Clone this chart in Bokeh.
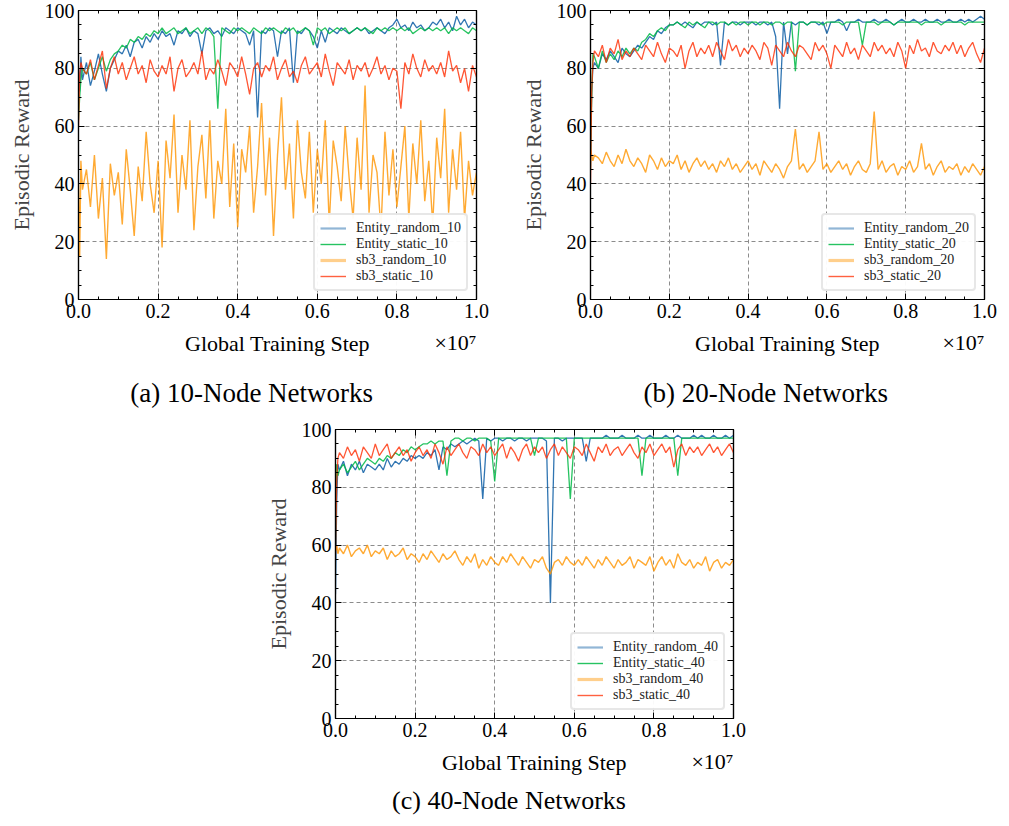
from bokeh.plotting import figure
from bokeh.models import (Range1d, LinearAxis, SingleIntervalTicker, Legend, LegendItem,
                          Spacer, NumeralTickFormatter, CustomJSTickFormatter)
from bokeh.layouts import column, row
from bokeh.core.properties import value
from bokeh.embed import file_html
from bokeh.resources import INLINE

# ---------------- data (x in units of 1e7 training steps) ----------------
STEPS = [0.000, 0.003, 0.006,
         0.01, 0.02, 0.03, 0.04, 0.05, 0.06, 0.07, 0.08, 0.09, 0.10,
         0.11, 0.12, 0.13, 0.14, 0.15, 0.16, 0.17, 0.18, 0.19, 0.20,
         0.21, 0.22, 0.23, 0.24, 0.25, 0.26, 0.27, 0.28, 0.29, 0.30,
         0.31, 0.32, 0.33, 0.34, 0.35, 0.36, 0.37, 0.38, 0.39, 0.40,
         0.41, 0.42, 0.43, 0.44, 0.45, 0.46, 0.47, 0.48, 0.49, 0.50,
         0.51, 0.52, 0.53, 0.54, 0.55, 0.56, 0.57, 0.58, 0.59, 0.60,
         0.61, 0.62, 0.63, 0.64, 0.65, 0.66, 0.67, 0.68, 0.69, 0.70,
         0.71, 0.72, 0.73, 0.74, 0.75, 0.76, 0.77, 0.78, 0.79, 0.80,
         0.81, 0.82, 0.83, 0.84, 0.85, 0.86, 0.87, 0.88, 0.89, 0.90,
         0.91, 0.92, 0.93, 0.94, 0.95, 0.96, 0.97, 0.98, 0.99, 1.00]

# (a) 10-node
A_ENTITY_RANDOM = [80, 72, 84,
                   76, 82, 74, 79, 85, 78, 72, 80, 83, 86,
                   85, 88, 84, 89, 90, 87, 91, 89, 92, 90,
                   93, 91, 92, 88, 93, 92, 94, 91, 93, 92,
                   85, 93, 94, 92, 93, 91, 94, 93, 92, 94,
                   93, 92, 88, 93, 63, 93, 92, 94, 93, 84,
                   93, 92, 94, 75, 93, 92, 94, 93, 91, 87,
                   93, 89, 94, 93, 92, 94, 93, 92, 93, 94,
                   93, 94, 92, 93, 94, 93, 92, 94, 95, 97,
                   94, 95, 93, 96, 94, 95, 93, 94, 96, 95,
                   97, 94, 96, 93, 98, 95, 97, 94, 96, 95]
A_ENTITY_STATIC = [62, 70, 76,
                   80, 78, 82, 76, 80, 84, 79, 83, 85, 86,
                   88, 87, 90, 89, 91, 90, 92, 91, 93, 92,
                   94, 92, 93, 94, 92, 93, 94, 92, 93, 94,
                   92, 94, 93, 91, 66, 94, 93, 92, 94, 93,
                   94, 93, 92, 94, 93, 92, 94, 93, 94, 93,
                   92, 94, 93, 94, 92, 93, 94, 93, 88, 94,
                   93, 94, 92, 93, 94, 93, 94, 92, 93, 94,
                   93, 94, 93, 92, 94, 93, 94, 93, 94, 93,
                   94, 93, 94, 92, 93, 94, 93, 94, 93, 94,
                   93, 94, 92, 94, 93, 94, 93, 92, 94, 93]
A_SB3_RANDOM = [40, 15, 48,
                38, 45, 32, 50, 28, 42, 14, 47, 36, 44,
                26, 52, 38, 22, 46, 34, 58, 40, 30, 48,
                18, 55, 42, 64, 30, 50, 38, 62, 24, 46,
                57, 35, 62, 28, 48, 40, 66, 32, 54, 25,
                52, 44, 60, 30, 46, 68, 36, 56, 22, 50,
                70, 38, 54, 28, 62, 44, 35, 58, 30, 52,
                40, 62, 26, 55, 46, 34, 60, 42, 28, 56,
                38, 74, 30, 50, 44, 24, 58, 36, 52, 32,
                46, 60, 28, 54, 40, 62, 34, 48, 26, 56,
                42, 66, 30, 52, 38, 58, 28, 48, 36, 44]
A_SB3_STATIC = [60, 78, 82,
                80, 78, 83, 76, 81, 86, 73, 80, 84, 78,
                82, 76, 80, 84, 78, 81, 75, 83, 79, 77,
                81, 78, 84, 72, 80, 83, 77, 79, 82, 78,
                86, 76, 80, 78, 83, 79, 74, 82, 80, 77,
                84, 78, 71, 80, 82, 77, 81, 79, 84, 76,
                80, 83, 77, 79, 75, 81, 84, 78, 80, 82,
                77, 85, 79, 74, 82, 80, 78, 83, 76, 81,
                79, 82, 77, 80, 84, 78, 81, 76, 80, 79,
                66, 82, 78, 85, 80, 77, 83, 79, 81, 78,
                82, 77, 86, 79, 81, 75, 80, 72, 81, 77]

# (b) 20-node
B_ENTITY_RANDOM = [50, 72, 80,
                   82, 80, 85, 83, 86, 84, 82, 87, 85, 84,
                   86, 88, 87, 89, 91, 90, 93, 92, 94, 95,
                   95, 96, 95, 96, 95, 94, 96, 95, 96, 96,
                   95, 96, 81, 96, 95, 96, 96, 95, 96, 96,
                   96, 95, 96, 96, 95, 96, 91, 66, 96, 85,
                   96, 95, 96, 96, 95, 96, 96, 95, 96, 92,
                   96, 96, 97, 96, 93, 96, 96, 97, 96, 96,
                   96, 97, 96, 96, 97, 96, 95, 96, 97, 96,
                   96, 97, 96, 96, 97, 96, 96, 97, 96, 96,
                   97, 96, 96, 97, 96, 97, 96, 97, 98, 97]
B_ENTITY_STATIC = [45, 70, 85,
                   84, 80, 86, 82, 85, 83, 86, 84, 87, 85,
                   87, 86, 89, 90, 92, 91, 93, 94, 93, 95,
                   95, 96, 95, 94, 96, 95, 96, 95, 94, 96,
                   96, 95, 96, 96, 95, 96, 95, 96, 96, 95,
                   96, 96, 95, 96, 96, 95, 96, 96, 95, 96,
                   96, 79, 96, 96, 95, 96, 96, 96, 95, 96,
                   96, 96, 96, 95, 96, 96, 96, 96, 88, 96,
                   96, 96, 95, 96, 96, 96, 95, 96, 96, 96,
                   96, 96, 96, 95, 96, 96, 96, 96, 95, 96,
                   96, 96, 96, 96, 95, 96, 96, 96, 96, 96]
B_SB3_RANDOM = [52, 50, 48,
                50, 49, 47, 51, 48, 46, 50, 47, 52, 48,
                46, 49, 47, 44, 50, 48, 45, 49, 46, 48,
                47, 50, 45, 48, 44, 47, 49, 46, 48, 45,
                47, 44, 48, 46, 49, 45, 47, 44, 46, 48,
                45, 47, 43, 48, 46, 44, 47, 45, 42, 46,
                48, 59, 45, 47, 44, 46, 48, 58, 45, 47,
                44, 46, 48, 45, 47, 43, 46, 48, 45, 44,
                47, 65, 45, 48, 44, 46, 47, 43, 46, 45,
                48, 44, 46, 54, 45, 47, 43, 46, 48, 44,
                46, 45, 47, 43, 46, 44, 47, 45, 43, 46]
B_SB3_STATIC = [40, 72, 82,
                86, 84, 88, 82, 87, 85, 90, 83, 86, 84,
                87, 85, 83, 88, 86, 84, 89, 85, 82, 87,
                86, 84, 88, 80, 86, 89, 84, 87, 85, 88,
                84, 89, 86, 83, 90, 86, 88, 84, 87, 85,
                88, 86, 83, 89, 87, 81, 88, 86, 84, 89,
                86, 84, 88, 87, 85, 83, 89, 86, 88, 85,
                80, 88, 86, 84, 89, 85, 87, 83, 88, 86,
                84, 89, 86, 88, 85, 87, 84, 89, 86, 80,
                88, 85, 90, 86, 87, 84, 89, 86, 85, 88,
                86, 89, 85, 88, 84, 87, 89, 85, 82, 87]

# (c) 40-node
C_ENTITY_RANDOM = [43, 75, 88,
                   86, 89, 84, 88, 86, 89, 85, 88, 87, 86,
                   88, 86, 90, 87, 89, 88, 90, 89, 91, 90,
                   91, 90, 92, 91, 93, 86, 94, 93, 95, 94,
                   95, 96, 95, 96, 97, 96, 76, 97, 96, 97,
                   97, 96, 97, 97, 96, 97, 97, 96, 97, 97,
                   97, 97, 96, 40, 97, 97, 96, 97, 97, 97,
                   97, 97, 89, 97, 97, 97, 97, 98, 97, 97,
                   97, 98, 97, 97, 97, 98, 97, 97, 98, 97,
                   97, 97, 98, 97, 97, 98, 97, 97, 97, 98,
                   97, 98, 97, 97, 98, 97, 97, 98, 97, 98]
C_ENTITY_STATIC = [60, 88, 84,
                   86, 88, 85, 87, 89, 86, 88, 90, 89, 88,
                   90, 89, 91, 90, 92, 91, 93, 92, 94, 93,
                   94, 95, 95, 96, 95, 96, 96, 84, 96, 97,
                   97, 96, 97, 97, 96, 97, 97, 97, 96, 82,
                   97, 97, 97, 97, 97, 97, 97, 97, 97, 91,
                   97, 97, 97, 97, 97, 97, 97, 97, 76, 97,
                   97, 97, 97, 97, 97, 97, 97, 97, 97, 97,
                   97, 97, 97, 97, 97, 97, 84, 97, 97, 97,
                   97, 97, 97, 97, 97, 84, 97, 97, 97, 97,
                   97, 97, 97, 97, 97, 97, 97, 97, 97, 97]
C_SB3_RANDOM = [58, 60, 57,
                59, 57, 60, 56, 58, 59, 57, 60, 56, 58,
                57, 59, 55, 58, 56, 57, 59, 55, 57, 56,
                54, 57, 55, 58, 56, 54, 57, 55, 56, 58,
                55, 53, 56, 54, 57, 52, 55, 53, 56, 54,
                53, 56, 54, 57, 55, 53, 56, 54, 52, 55,
                54, 56, 52, 50, 54, 55, 53, 56, 54, 53,
                55, 53, 56, 54, 52, 55, 53, 56, 54, 52,
                55, 53, 54, 56, 52, 55, 54, 53, 56, 51,
                54, 56, 53, 55, 52, 57, 54, 53, 55, 52,
                54, 53, 56, 51, 54, 55, 52, 54, 53, 55]
C_SB3_STATIC = [57, 82, 90,
                92, 90, 94, 91, 93, 89, 94, 92, 90, 95,
                91, 93, 95, 90, 92, 94, 91, 93, 89, 92,
                94, 91, 93, 90, 95, 92, 88, 94, 91, 93,
                95, 92, 90, 94, 93, 91, 95, 92, 94, 91,
                93, 95, 90, 94, 92, 89, 93, 95, 91, 94,
                92, 94, 90, 93, 95, 91, 94, 92, 90, 94,
                93, 91, 95, 92, 89, 94, 92, 95, 91, 93,
                94, 91, 93, 95, 92, 90, 94, 92, 95, 91,
                93, 95, 92, 94, 87, 93, 95, 91, 94, 92,
                94, 91, 93, 95, 92, 94, 91, 93, 95, 92]

SERIES_NAMES = ["Entity_random", "Entity_static", "sb3_random", "sb3_static"]
CAPTIONS = ["(a) 10-Node Networks", "(b) 20-Node Networks", "(c) 40-Node Networks"]
X_LABEL = "Global Training Step"
Y_LABEL = "Episodic Reward"
X_MULT = "\u00d710\u2077"

# ---------------- styling ----------------
FONT = "Liberation Serif"
NAN = float("nan")
LINE_STYLE = {
    "Entity_random": dict(color="#0C5DA5", alpha=0.85, width=1.3),
    "Entity_static": dict(color="#00B945", alpha=0.85, width=1.3),
    "sb3_random": dict(color="#FF9500", alpha=0.8, width=1.4),
    "sb3_static": dict(color="#FF2C00", alpha=0.8, width=1.3),
}
LEGEND_STYLE = {
    "Entity_random": dict(color="#0C5DA5", alpha=0.45, width=2.2),
    "Entity_static": dict(color="#00B945", alpha=0.85, width=1.4),
    "sb3_random": dict(color="#FF9500", alpha=0.45, width=3.2),
    "sb3_static": dict(color="#FF2C00", alpha=0.75, width=1.4),
}


def style_axis(ax, show_labels):
    ax.axis_line_color = "black"
    ax.axis_line_width = 1.2
    ax.major_tick_in = 6
    ax.major_tick_out = 0
    ax.minor_tick_in = 3
    ax.minor_tick_out = 0
    ax.major_tick_line_color = "black"
    ax.minor_tick_line_color = "black"
    if show_labels:
        ax.major_label_text_font = FONT
        ax.major_label_text_font_size = "20px"
        ax.major_label_text_color = "black"
        ax.major_label_standoff = 4
    else:
        ax.formatter = CustomJSTickFormatter(code="return ''")
        ax.major_label_standoff = 0


def make_panel(n, data, width, height, bl, br, bt, bb):
    p = figure(width=width, height=height,
               x_range=Range1d(0, 1), y_range=Range1d(0, 100),
               output_backend="svg", toolbar_location=None,
               min_border_left=bl, min_border_right=br,
               min_border_top=bt, min_border_bottom=bb)
    p.background_fill_color = "white"
    p.border_fill_color = "white"
    p.outline_line_color = "black"
    p.outline_line_width = 1.2

    p.add_layout(LinearAxis(), "right")
    p.add_layout(LinearAxis(), "above")

    xt = SingleIntervalTicker(interval=0.2, num_minor_ticks=4)
    yt = SingleIntervalTicker(interval=20, num_minor_ticks=4)
    for ax in p.xaxis:
        ax.ticker = xt
    for ax in p.yaxis:
        ax.ticker = yt
    p.below[0].formatter = NumeralTickFormatter(format="0.0")

    style_axis(p.below[0], True)
    style_axis(p.left[0], True)
    style_axis(p.right[0], False)
    style_axis(p.above[0], False)

    ly = p.left[0]
    ly.axis_label = Y_LABEL
    ly.axis_label_text_font = FONT
    ly.axis_label_text_font_size = "22px"
    ly.axis_label_text_font_style = "normal"
    ly.axis_label_standoff = 8

    p.xgrid.grid_line_color = "#8c8c8c"
    p.ygrid.grid_line_color = "#8c8c8c"
    p.xgrid.grid_line_dash = "4 3"
    p.ygrid.grid_line_dash = "4 3"
    p.xgrid.grid_line_width = 1
    p.ygrid.grid_line_width = 1

    for name in SERIES_NAMES:
        st = LINE_STYLE[name]
        p.line(STEPS, data[name], line_color=st["color"], line_alpha=st["alpha"],
               line_width=st["width"])

    items = []
    for name in SERIES_NAMES:
        ls = LEGEND_STYLE[name]
        r = p.line([NAN], [NAN], line_color=ls["color"], line_alpha=ls["alpha"],
                   line_width=ls["width"])
        items.append(LegendItem(label=f"{name}_{n}", renderers=[r]))
    legend = Legend(items=items, location="bottom_right", margin=8,
                    label_text_font=FONT, label_text_font_size="14px",
                    label_text_color="#222222",
                    label_height=14, glyph_height=14, glyph_width=26,
                    label_standoff=10, spacing=0, padding=5,
                    border_line_color="#cfcfcf", border_line_width=2,
                    background_fill_color="white", background_fill_alpha=0.95)
    if "border_radius" in Legend.properties():
        legend.border_radius = 4
    p.add_layout(legend)
    return p


def make_text_panel(width, height, bl, br, entries):
    # text strip whose frame is aligned with the panel frame above it (x in 0..1)
    t = figure(width=width, height=height,
               x_range=Range1d(0, 1), y_range=Range1d(0, height),
               output_backend="svg", toolbar_location=None,
               x_axis_location=None, y_axis_location=None,
               min_border_left=bl, min_border_right=br,
               min_border_top=0, min_border_bottom=0)
    t.outline_line_color = None
    t.background_fill_color = "white"
    t.border_fill_color = "white"
    t.grid.visible = False
    for (x, y_top, txt, size, align) in entries:
        t.text(x=[x], y=[height - y_top], text=[txt], text_align=align,
               text_baseline="middle", text_font=value(FONT),
               text_font_size=value(size), text_color="black")
    return t


# panel (a)
pa = make_panel(10, {"Entity_random": A_ENTITY_RANDOM, "Entity_static": A_ENTITY_STATIC,
                     "sb3_random": A_SB3_RANDOM, "sb3_static": A_SB3_STATIC},
                507, 329, 70, 36, 10, 30)
ta = make_text_panel(507, 84, 70, 36, [(0.5, 14, X_LABEL, "22px", "center"),
                                       (1.0, 13, X_MULT, "22px", "right"),
                                       (0.435, 63, CAPTIONS[0], "27px", "center")])
# panel (b)
pb = make_panel(20, {"Entity_random": B_ENTITY_RANDOM, "Entity_static": B_ENTITY_STATIC,
                     "sb3_random": B_SB3_RANDOM, "sb3_static": B_SB3_STATIC},
                486, 329, 78, 14, 10, 30)
tb = make_text_panel(486, 84, 78, 14, [(0.5, 14, X_LABEL, "22px", "center"),
                                       (1.0, 13, X_MULT, "22px", "right"),
                                       (0.445, 63, CAPTIONS[1], "27px", "center")])
# panel (c)
pc = make_panel(40, {"Entity_random": C_ENTITY_RANDOM, "Entity_static": C_ENTITY_STATIC,
                     "sb3_random": C_SB3_RANDOM, "sb3_static": C_SB3_STATIC},
                508, 335, 70, 37, 16, 30)
tc = make_text_panel(508, 68, 70, 37, [(0.5, 14, X_LABEL, "22px", "center"),
                                       (1.0, 13, X_MULT, "22px", "right"),
                                       (0.436, 52, CAPTIONS[2], "26px", "center")])

layout = column(row(Spacer(width=5, height=413), column(pa, ta), column(pb, tb)),
                row(Spacer(width=262, height=403), column(pc, tc)))
open("out.html", "w").write(file_html(layout, INLINE))
